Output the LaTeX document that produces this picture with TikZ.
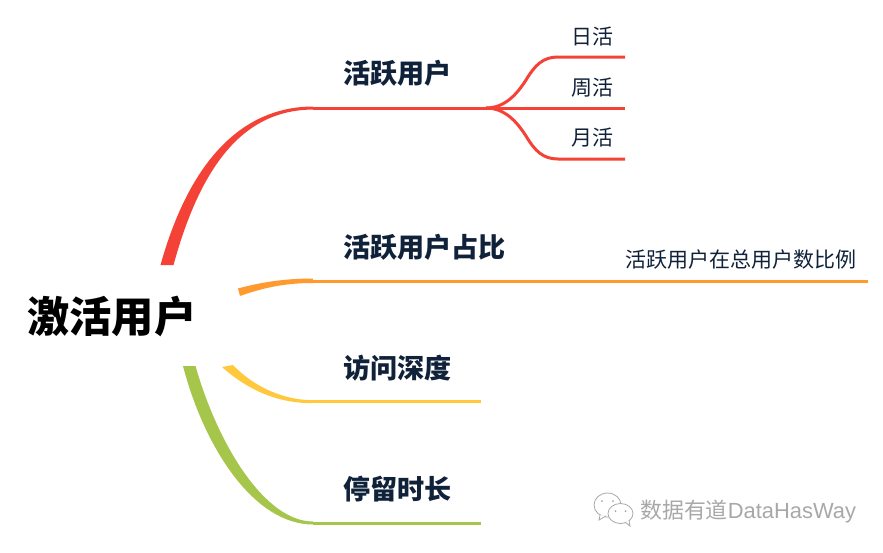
\documentclass[tikz,border=0pt]{standalone}
\usepackage{fontspec}
\setmainfont{Noto Sans CJK SC}
\newfontfamily\latinfont{Liberation Sans}
\usepackage{xcolor}
\definecolor{inkblue}{HTML}{10213A}
\definecolor{redline}{HTML}{F44336}
\definecolor{orangeline}{HTML}{FF9A2E}
\definecolor{yellowline}{HTML}{FFC83D}
\definecolor{greenline}{HTML}{A5C64A}
\definecolor{markgray}{HTML}{A8A8A8}
\begin{document}
\begin{tikzpicture}
        [
            x=1pt,y=-1pt,
            rootbox/.style={anchor=west,inner sep=0pt,font=\fontsize{42.3}{42}\selectfont\bfseries,text=black},
            titlebox/.style={anchor=west,inner sep=0pt,font=\fontsize{27.1}{27}\selectfont\bfseries,text=inkblue},
            leafbox/.style={anchor=west,inner sep=0pt,font=\fontsize{21}{21}\selectfont,text=inkblue},
            markbox/.style={anchor=west,inner sep=0pt,font=\fontsize{21.9}{22}\selectfont,text=markgray},
            wire/.style={line width=3pt},
            bubble/.style={draw=markgray,fill=white,line width=0.8pt},
        ]
    \useasboundingbox (0,0) rectangle (883,552);

    % labels
    \node[rootbox] (root) at (27,316) {激活用户};
    \node[titlebox] (active) at (343,73) {活跃用户};
    \node[titlebox] (ratio) at (343,247) {活跃用户占比};
    \node[titlebox] (depth) at (343,368) {访问深度};
    \node[titlebox] (stay) at (343,489) {停留时长};
    \node[leafbox] (day) at (571,37) {日活};
    \node[leafbox] (week) at (571,88) {周活};
    \node[leafbox] (month) at (571,138) {月活};
    \node[leafbox] (share) at (625,260) {活跃用户在总用户数比例};

    % line ends
    \coordinate (redtip) at (313,108);
    \coordinate (redfork) at (486,108);
    \coordinate (orangetip) at (313,281);
    \coordinate (yellowtip) at (313,401.7);
    \coordinate (greentip) at (313,523);

    % tapered branches
    \fill[redline] (160.5,265) .. controls (194,145) and (254,106.5) .. (313,106.5)
        -- (313,109.5) .. controls (256,110) and (206,146) .. (173.5,265) -- cycle;
    \fill[orangeline] (238,288.5) .. controls (265,281) and (290,278.5) .. (313,278.5)
        -- (313,283) .. controls (290,283) and (268,286) .. (240,296) -- cycle;
    \fill[yellowline] (222,367) .. controls (250,392) and (280,403.2) .. (313,403.2)
        -- (313,400.2) .. controls (285,400.2) and (255,388) .. (233,365) -- cycle;
    \fill[greenline] (183,366) .. controls (205,450) and (255,524.5) .. (313,524.5)
        -- (313,521.5) .. controls (265,521.5) and (218,445) .. (195.5,366) -- cycle;

    % straight parts
    \draw[wire,redline] (redtip) -- (625,108);
    \draw[wire,orangeline] (orangetip) -- (868,281);
    \draw[wire,yellowline] (yellowtip) -- (481,401.7);
    \draw[wire,greenline] (greentip) -- (481,523);

    % forks to the two outer leaves
    \foreach \yend/\ymid/\ya/\yb in {57/80/94/65,159/136/122/151}{
        \draw[wire,redline] (redfork) .. controls (505,108) and (517,\ya) .. (526,\ymid)
            .. controls (535,\yb) and (543,\yend) .. (558,\yend) -- (625,\yend);
    }

    % watermark
    \draw[bubble] (607.5,505) ellipse [x radius=13.5,y radius=12];
    \draw[bubble] (600,515) -- (599,520) -- (606,516);
    \draw[bubble] (620.5,513.5) ellipse [x radius=12.5,y radius=10];
    \draw[bubble] (625,522) -- (630,526) -- (629,520);
    \fill[markgray] (602,501) circle (1pt) (613,501) circle (1pt)
        (615.5,511) circle (1pt) (625.5,511) circle (1pt);
    \node[markbox] (mark) at (640,512) {数据有道{\latinfont DataHasWay}};
    \end{tikzpicture}
\end{document}
